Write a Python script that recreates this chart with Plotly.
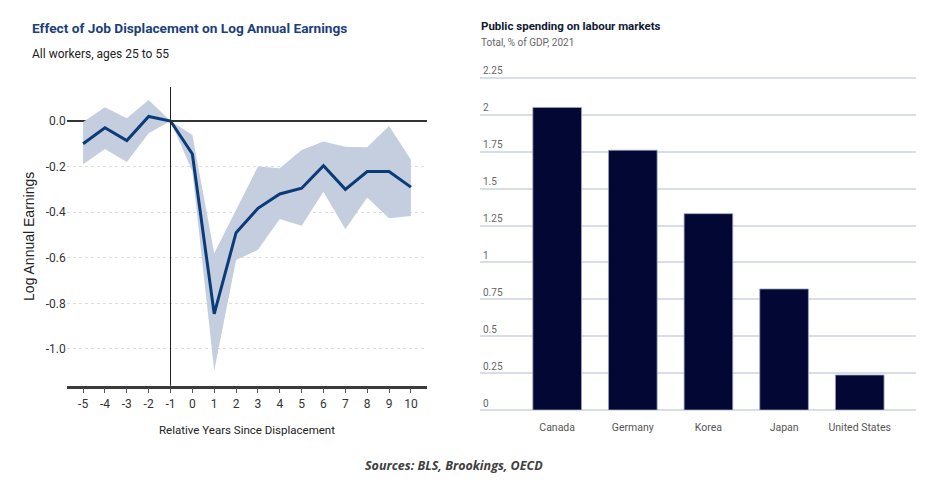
import plotly.graph_objects as go

# left panel: effect of job displacement
years = [-5, -4, -3, -2, -1, 0, 1, 2, 3, 4, 5, 6, 7, 8, 9, 10]
effect = [-0.10, -0.03, -0.086, 0.02, 0.0, -0.145, -0.846, -0.49, -0.383, -0.32, -0.295, -0.196, -0.30, -0.222, -0.222, -0.29]
upper = [-0.005, 0.06, 0.012, 0.092, 0.0, -0.061, -0.58, -0.39, -0.20, -0.207, -0.127, -0.09, -0.113, -0.115, -0.022, -0.17]
lower = [-0.19, -0.123, -0.18, -0.054, 0.0, -0.22, -1.095, -0.61, -0.565, -0.43, -0.46, -0.31, -0.475, -0.336, -0.427, -0.417]
ytick_vals = [0.0, -0.2, -0.4, -0.6, -0.8, -1.0]
ytick_text = ['0.0', '-0.2', '-0.4', '-0.6', '-0.8', '-1.0']
xtick_text = [str(y) for y in years]

# right panel: public spending on labour markets
countries = ['Canada', 'Germany', 'Korea', 'Japan', 'United States']
spending = [2.05, 1.76, 1.33, 0.82, 0.237]
bar_ticks = [0, 0.25, 0.5, 0.75, 1, 1.25, 1.5, 1.75, 2, 2.25]
bar_ticktext = ['0', '0.25', '0.5', '0.75', '1', '1.25', '1.5', '1.75', '2', '2.25']

navy = '#0b3b78'
band = 'rgb(196,206,222)'
font = 'Roboto, sans-serif'

W, H = 946, 493
OFF = 8  # page body margin


def px(x):
    return (x - OFF) / W


def py(y):
    return 1 - (y - OFF) / H


fig = go.Figure()

fig.add_trace(go.Scatter(x=years, y=upper, mode='lines', line=dict(width=0, color=band),
                         showlegend=False, hoverinfo='skip'))
fig.add_trace(go.Scatter(x=years, y=lower, mode='lines', line=dict(width=0, color=band),
                         fill='tonexty', fillcolor=band, showlegend=False, hoverinfo='skip'))
fig.add_trace(go.Scatter(x=years, y=effect, mode='lines', line=dict(color=navy, width=3),
                         showlegend=False))

fig.add_trace(go.Bar(x=countries, y=spending, marker=dict(color='#020733', line=dict(color='#9aa3c0', width=0.8)),
                     xaxis='x2', yaxis='y2', showlegend=False))

fig.update_layout(
    width=W, height=H,
    margin=dict(l=0, r=0, t=0, b=0),
    paper_bgcolor='white', plot_bgcolor='white',
    bargap=0.357,
    xaxis=dict(domain=[px(66.7), px(427.3)], range=[-5.75, 10.75],
               tickvals=years, ticktext=xtick_text, showgrid=False, zeroline=False,
               showline=True, linecolor='#3a3a3a', linewidth=2.5,
               ticks='outside', ticklen=5, tickcolor='#555', tickwidth=1,
               tickfont=dict(family=font, size=12, color='#333'),
               title=dict(text='Relative Years Since Displacement', standoff=17,
                          font=dict(family=font, size=11.5, color='#222'))),
    yaxis=dict(domain=[py(385.7), py(87)], range=[-1.161, 0.149],
               tickvals=ytick_vals, ticktext=ytick_text,
               showgrid=True, gridcolor='#dcdcdc', griddash='dot', gridwidth=1,
               zeroline=True, zerolinecolor='#333', zerolinewidth=1.5,
               showline=False, ticks='',
               tickfont=dict(family=font, size=12, color='#333'),
               title=dict(text='Log Annual Earnings', standoff=7,
                          font=dict(family='Liberation Sans, Arial, sans-serif', size=14, color='#222'))),
    xaxis2=dict(domain=[px(480), px(915.7)], anchor='y2', range=[-1.02, 4.74],
                showgrid=False, zeroline=False, showline=False, ticks='',
                ticklabelstandoff=9,
                tickfont=dict(family=font, size=10.5, color='#555')),
    yaxis2=dict(domain=[py(410), py(410 - 2.36 * 147.6)], anchor='x2', range=[0, 2.36],
                tickvals=bar_ticks, ticktext=bar_ticktext,
                showgrid=True, gridcolor='#d9dde8', gridwidth=1.5,
                zeroline=True, zerolinecolor='#d9dde8', zerolinewidth=1.5,
                ticklabelposition='inside top', ticks='',
                tickfont=dict(family=font, size=10, color='#666')),
)

# vertical reference line at the displacement year
fig.add_shape(type='line', xref='x', yref='paper', x0=-1, x1=-1,
              y0=py(385.7), y1=py(87), line=dict(color='#222', width=1), layer='above')

annos = [
    dict(text='<b>Effect of Job Displacement on Log Annual Earnings</b>', x=px(30), y=py(28),
         font=dict(family=font, size=13.7, color='#1d3f7a')),
    dict(text='All workers, ages 25 to 55', x=px(30), y=py(54),
         font=dict(family=font, size=12, color='#222')),
    dict(text='<b>Public spending on labour markets</b>', x=px(479), y=py(26),
         font=dict(family=font, size=11.5, color='#111a33')),
    dict(text='Total, % of GDP, 2021', x=px(479), y=py(42),
         font=dict(family=font, size=10, color='#666')),
    dict(text='<b><i>Sources: BLS, Brookings, OECD</i></b>', x=px(454), y=py(465),
         xanchor='center',
         font=dict(family='Open Sans, sans-serif', size=12.5, color='#404040')),
]
for a in annos:
    a.setdefault('xanchor', 'left')
    fig.add_annotation(xref='paper', yref='paper', showarrow=False, yanchor='middle', **a)

fig.write_html('out.html')
